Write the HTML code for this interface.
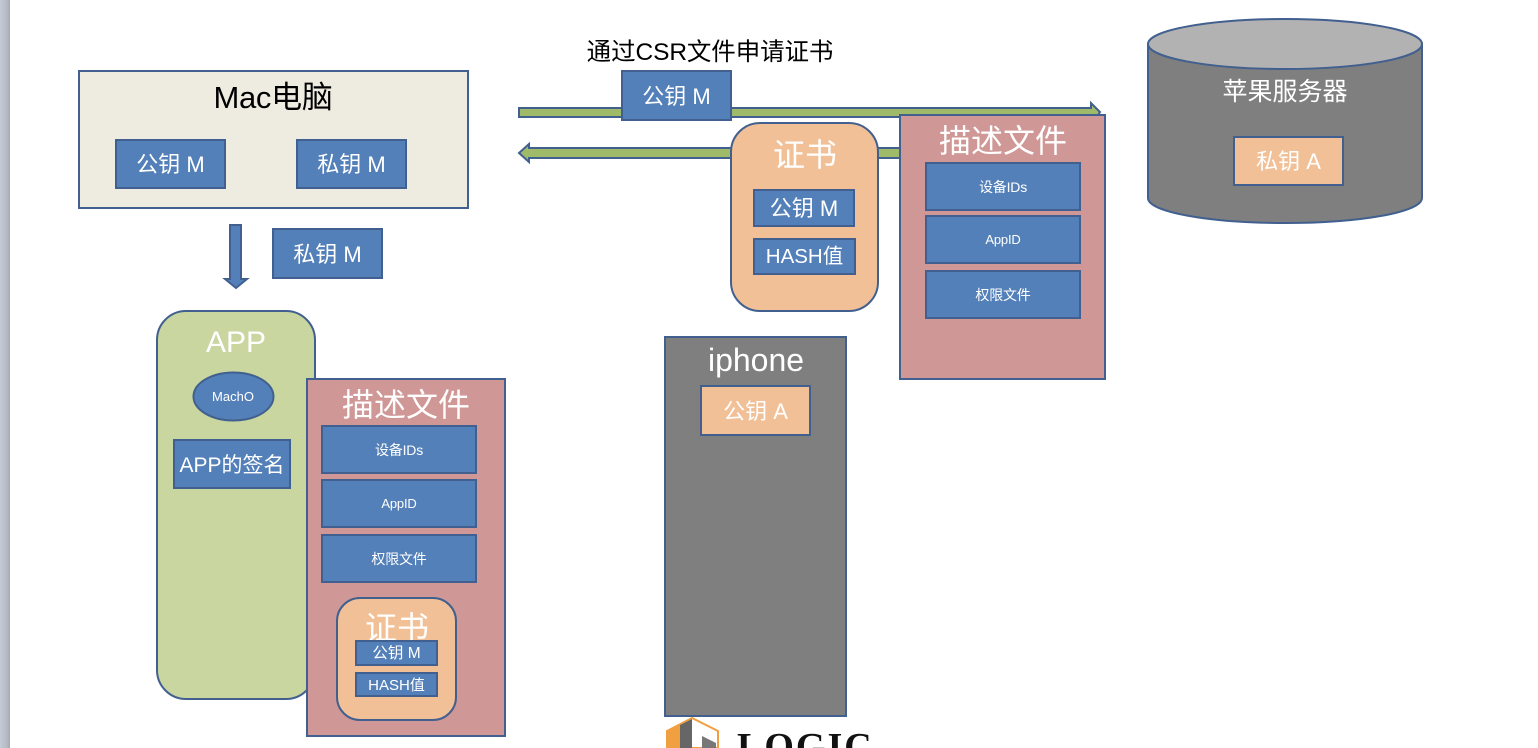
<!DOCTYPE html>
<html lang="zh"><head><meta charset="utf-8"><title>Diagram</title>
<style>
html,body{margin:0;padding:0;background:#fff}
#p{position:relative;width:1538px;height:748px;overflow:hidden;background:#fff;font-family:"Liberation Sans","Noto Sans CJK SC",sans-serif;color:#fff}
#strip{position:absolute;left:0;top:0;width:10px;height:748px;background:linear-gradient(90deg,#c6cbd6,#b4b9c4 70%,#a4a8b2)}
.b{position:absolute;box-sizing:border-box;border:2px solid #41608f;display:flex;align-items:center;justify-content:center;white-space:nowrap;line-height:1}
.blue{background:#5480b9;font-size:22px}
.pad{padding-top:2px}
.sm{font-size:14px;padding-top:0;letter-spacing:-.2px}
.t{position:absolute;white-space:nowrap;line-height:1;text-align:center;transform:translateX(-50%)}
svg{position:absolute;left:0;top:0}
</style></head><body><div id="p">
<div id="strip"></div>

<svg width="1538" height="748">
<path d="M519 108H1091V103L1100 112L1097 117H519Z" fill="#9fba68" stroke="#41608f" stroke-width="2"/>
<path d="M910 148H529V144L519 153L529 162V158H910Z" fill="#9fba68" stroke="#41608f" stroke-width="2"/>
<path d="M230 225H241V279H247L236 288L225 279H230Z" fill="#5480b9" stroke="#41608f" stroke-width="2"/>
<path d="M1148 44V198C1148 212 1209 223 1285 223C1361 223 1422 212 1422 198V44Z" fill="#7f7f7f" stroke="#41608f" stroke-width="2"/>
<ellipse cx="1285" cy="44" rx="137" ry="25" fill="#b2b2b2" stroke="#41608f" stroke-width="2"/>
</svg>

<div class="b" style="left:78px;top:70px;width:391px;height:139px;background:#eeece1"></div>
<div class="t" style="left:273px;top:82px;font-size:31px;letter-spacing:-.3px;color:#000">Mac电脑</div>
<div class="b blue pad" style="left:115px;top:139px;width:111px;height:50px">公钥 M</div>
<div class="b blue pad" style="left:296px;top:139px;width:111px;height:50px">私钥 M</div>
<div class="b blue pad" style="left:272px;top:228px;width:111px;height:51px">私钥 M</div>

<div class="t" style="left:710px;top:41px;font-size:24.500px;letter-spacing:-.1px;color:#000">通过CSR文件申请证书</div>
<div class="b blue pad" style="left:621px;top:70px;width:111px;height:51px">公钥 M</div>

<div class="b" style="left:730px;top:122px;width:149px;height:190px;background:#f2c097;border-radius:30px"></div>
<div class="t" style="left:805px;top:139px;font-size:32px">证书</div>
<div class="b blue pad" style="left:753px;top:189px;width:102px;height:38px">公钥 M</div>
<div class="b blue pad" style="left:753px;top:238px;width:103px;height:37px;font-size:20.500px">HASH值</div>

<div class="b" style="left:899px;top:114px;width:207px;height:266px;background:#cf9795"></div>
<div class="t" style="left:1003px;top:125px;font-size:32px">描述文件</div>
<div class="b blue sm" style="left:925px;top:162px;width:156px;height:49px"><span style="margin-left:0">设备IDs</span></div>
<div class="b blue sm" style="left:925px;top:215px;width:156px;height:49px;font-size:13px">AppID</div>
<div class="b blue sm" style="left:925px;top:270px;width:156px;height:49px">权限文件</div>

<div class="t" style="left:1285px;top:80px;font-size:25px">苹果服务器</div>
<div class="b pad" style="left:1233px;top:136px;width:111px;height:50px;background:#f2c097;font-size:22px">私钥 A</div>

<div class="b" style="left:664px;top:336px;width:183px;height:381px;background:#7f7f7f"></div>
<div class="t" style="left:756px;top:344px;font-size:32px">iphone</div>
<div class="b pad" style="left:700px;top:385px;width:111px;height:51px;background:#f2c097;font-size:22px">公钥 A</div>

<div class="b" style="left:156px;top:310px;width:160px;height:390px;background:#c9d6a0;border-radius:30px"></div>
<div class="t" style="left:236px;top:328px;font-size:30px">APP</div>
<svg width="1538" height="748"><ellipse cx="233.500" cy="396.500" rx="40" ry="24" fill="#5480b9" stroke="#41608f" stroke-width="2"/></svg>
<div class="t" style="left:233px;top:390px;font-size:13px">MachO</div>
<div class="b blue pad" style="left:173px;top:439px;width:118px;height:50px;font-size:21px">APP的签名</div>

<div class="b" style="left:306px;top:378px;width:200px;height:359px;background:#cf9795"></div>
<div class="t" style="left:406px;top:389px;font-size:32px">描述文件</div>
<div class="b blue sm" style="left:321px;top:425px;width:156px;height:49px">设备IDs</div>
<div class="b blue sm" style="left:321px;top:479px;width:156px;height:49px;font-size:13px">AppID</div>
<div class="b blue sm" style="left:321px;top:534px;width:156px;height:49px">权限文件</div>

<div class="b" style="left:336px;top:597px;width:121px;height:124px;background:#f2c097;border-radius:24px"></div>
<div class="t" style="left:397px;top:612px;font-size:32px">证书</div>
<div class="b blue pad" style="left:355px;top:640px;width:83px;height:26px;font-size:15.500px">公钥 M</div>
<div class="b blue pad" style="left:355px;top:672px;width:83px;height:25px;font-size:15px">HASH值</div>

<svg width="1538" height="748">
<path d="M667 731L692 718L718 731V748H667Z" fill="#fff" stroke="#f0a040" stroke-width="2"/>
<path d="M667 731L680 725V748H667Z" fill="#f0a040"/>
<path d="M680 725L692 719V748H680Z" fill="#666"/>
<path d="M702 736L716 743V748H702Z" fill="#777"/>
</svg>
<div style="position:absolute;left:737px;top:728px;font:bold 38px/1 'Liberation Serif',serif;color:#111;letter-spacing:2px">LOGIC</div>
</div></body></html>
